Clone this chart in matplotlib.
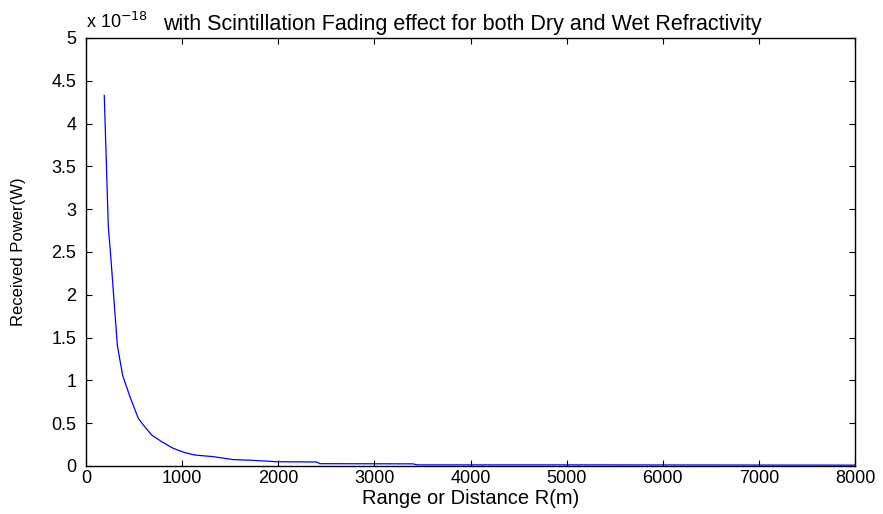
import matplotlib
matplotlib.use("Agg")
import matplotlib.pyplot as plt

# Range (m) and received power (x 1e-18 W)
range_m = [190, 232, 260, 326, 381, 457, 544, 596, 683, 787, 908, 1029, 1133,
           1324, 1530, 1720, 1982, 2398, 2432, 3400, 3450, 5343, 8000]
power_e18 = [4.33, 2.80, 2.41, 1.41, 1.06, 0.81, 0.557, 0.479, 0.362, 0.284,
             0.206, 0.156, 0.128, 0.109, 0.075, 0.067, 0.05, 0.047, 0.027,
             0.025, 0.013, 0.013, 0.01]

x_ticks = [0, 1000, 2000, 3000, 4000, 5000, 6000, 7000, 8000]
y_ticks = [0, 0.5, 1, 1.5, 2, 2.5, 3, 3.5, 4, 4.5, 5]
y_tick_labels = ["0", "0.5", "1", "1.5", "2", "2.5", "3", "3.5", "4", "4.5", "5"]

plt.rcParams['font.family'] = ['Liberation Sans', 'DejaVu Sans']

fig = plt.figure(figsize=(8.83, 5.14), dpi=100)
ax = fig.add_axes([86/883, 48/514, (855-86)/883, (466-38)/514])

ax.plot(range_m, power_e18, color=(0, 0, 1), linewidth=0.9)

ax.set_xlim(0, 8000)
ax.set_ylim(0, 5)
ax.set_xticks(x_ticks)
ax.set_xticklabels([str(t) for t in x_ticks])
ax.set_yticks(y_ticks)
ax.set_yticklabels(y_tick_labels)

ax.tick_params(direction='in', length=4, width=0.8, top=True, right=True,
               labelsize=13)
ax.tick_params(axis='x', pad=3)
ax.tick_params(axis='y', pad=7)
for s in ax.spines.values():
    s.set_linewidth(1.0)

ax.set_xlabel("Range or Distance R(m)", fontsize=14.5, labelpad=1)
ax.set_ylabel("Received Power(W)", fontsize=12, labelpad=18)
ax.set_title("with Scintillation Fading effect for both Dry and Wet Refractivity",
             fontsize=15.5, pad=6, x=0.49)
ax.text(0.0, 1.015, "x 10$^{-18}$", transform=ax.transAxes, fontsize=13,
        ha='left', va='bottom')

fig.savefig("out.png", dpi=100)
